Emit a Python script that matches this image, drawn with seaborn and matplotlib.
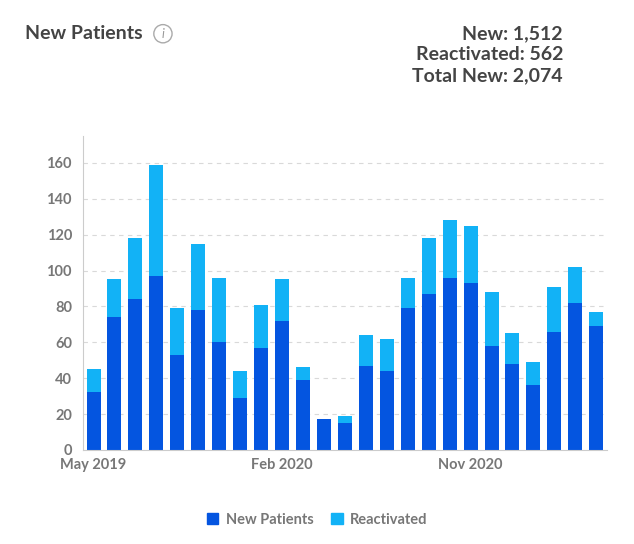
import numpy as np
import pandas as pd
import seaborn as sns
import matplotlib.pyplot as plt
from matplotlib.patches import Patch

# monthly counts, May 2019 - May 2021
months = pd.date_range("2019-05-01", periods=25, freq="MS").strftime("%b %Y").tolist()
new_patients = [32, 74, 84, 97, 53, 78, 60, 29, 57, 72, 39, 17, 15, 47, 44,
                79, 87, 96, 93, 58, 48, 36, 66, 82, 69]
total_new = [45, 95, 118, 159, 79, 115, 96, 44, 81, 95, 46, 17, 19, 64, 62,
             96, 118, 128, 125, 88, 65, 49, 91, 102, 77]
reactivated = [t - n for t, n in zip(total_new, new_patients)]
shown_labels = {"May 2019", "Feb 2020", "Nov 2020"}

dark_blue = "#0455e0"
light_blue = "#12b2f6"

sns.set_style("white")
plt.rcParams['font.family'] = ['Lato', 'DejaVu Sans']

fig = plt.figure(figsize=(6.34, 5.44), dpi=100)
ax = fig.add_axes([0.131, 0.173, 0.826, 0.577])

df = pd.DataFrame({"month": months, "new": new_patients, "total": total_new})
sns.barplot(data=df, x="month", y="total", color=light_blue, width=0.67,
            saturation=1, linewidth=0, ax=ax)
sns.barplot(data=df, x="month", y="new", color=dark_blue, width=0.67,
            saturation=1, linewidth=0, ax=ax)

ax.set_xlim(-0.5, len(months) - 0.5)
ax.set_ylim(0, 175)
ax.set_yticks(range(0, 161, 20))
ax.set_xlabel("")
ax.set_ylabel("")

# category boundary ticks, labels every few months
ax.set_xticks(np.arange(-0.5, len(months), 1), minor=True)
ax.set_xticks([i for i, m in enumerate(months) if m in shown_labels])
ax.set_xticklabels([m for m in months if m in shown_labels])
ax.tick_params(axis="x", which="major", length=0, pad=6,
               labelsize=10.5, labelcolor="#777")
ax.tick_params(axis="x", which="minor", length=4, color="#ccc", width=0.8)
ax.tick_params(axis="y", length=4, color="#ccc", width=0.8, labelsize=10.5,
               labelcolor="#777", pad=4)
for lab in ax.get_xticklabels() + ax.get_yticklabels():
    lab.set_fontweight("bold")

for y in range(20, 161, 20):
    ax.axhline(y, color="#d9d9d9", lw=0.8, ls=(0, (4, 4)), zorder=0)

sns.despine(ax=ax)
ax.spines["left"].set_color("#ccc")
ax.spines["bottom"].set_color("#ccc")

# header texts
fig.text(0.039, 0.938, "New Patients", fontsize=14, color="#444",
         fontweight="bold", va="center")
fig.text(0.257, 0.938, "i", fontsize=9, color="#999", style="italic",
         ha="center", va="center",
         bbox=dict(boxstyle="circle,pad=0.25", fc="none", ec="#aaa", lw=1))
fig.text(0.888, 0.938, "New: {:,}".format(sum(new_patients)), fontsize=14,
         color="#444", fontweight="bold", ha="right", va="center")
fig.text(0.888, 0.900, "Reactivated: {:,}".format(sum(reactivated)), fontsize=14,
         color="#444", fontweight="bold", ha="right", va="center")
fig.text(0.888, 0.860, "Total New: {:,}".format(sum(total_new)), fontsize=14,
         color="#444", fontweight="bold", ha="right", va="center")

handles = [Patch(color=dark_blue, label="New Patients"),
           Patch(color=light_blue, label="Reactivated")]
leg = fig.legend(handles=handles, loc="center", bbox_to_anchor=(0.5, 0.045),
                 ncol=2, frameon=False, handlelength=0.8, handleheight=0.8,
                 handletextpad=0.5, columnspacing=1.2, fontsize=10.5)
for t in leg.get_texts():
    t.set_color("#777")
    t.set_fontweight("bold")

fig.savefig("out.png", dpi=100)
